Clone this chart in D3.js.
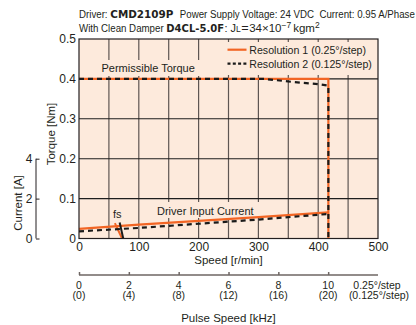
<!DOCTYPE html>
<html><head><meta charset="utf-8">
<script src="https://cdn.jsdelivr.net/npm/d3@7"></script>
<style>
html,body{margin:0;padding:0;background:#fff;}
svg{display:block;font-family:"Liberation Sans",Arial,sans-serif;}
</style></head>
<body>
<svg id="c" width="416" height="325"></svg>
<script>
// ---------- data ----------
const speedTicks = [0,100,200,300,400,500];
const torqueTicks = [0,0.1,0.2,0.3,0.4,0.5];
const currentTicks = [0,2,4];
const pulseTicks = [0,2,4,6,8,10];
const pulseLabels2 = ["(0)","(4)","(8)","(12)","(16)","(20)"];
// torque curves [speed r/min, torque Nm]
const torqueRes1 = [[0,0.4],[100,0.4],[200,0.4],[300,0.4],[417,0.4],[417,0]];
const torqueRes2 = [[0,0.4],[100,0.4],[200,0.4],[310,0.4],[360,0.392],[400,0.387],[417,0.383],[417,0]];
// driver input current [speed r/min, current A]
const currentRes1 = [[0,0.48],[100,0.7],[200,0.88],[300,1.07],[417,1.31]];
const currentRes2 = [[0,0.36],[100,0.53],[200,0.74],[300,0.95],[417,1.23]];
// fs (max starting frequency) markers [speed, current]
const fsRes1 = [[60,0.77],[72,0]];
const fsRes2 = [[68,0.8],[74,0]];
const legendLabels = ["Resolution 1 (0.25°/step)","Resolution 2 (0.125°/step)"];

// ---------- layout ----------
const L=79, R=378, T=39, B=238.5;
const bg="#fdeadc", orange="#f26524", dark="#1a1a1a", ink="#231f20";
const svg=d3.select("#c");
const x=d3.scaleLinear().domain([0,500]).range([L,R]);
const y=d3.scaleLinear().domain([0,0.5]).range([B,T]);
const yc=d3.scaleLinear().domain([0,4]).range([B,y(0.2)]);
const xp=d3.scaleLinear().domain([0,12]).range([L,R]);

// plot background
svg.append("rect").attr("x",L).attr("y",T).attr("width",R-L).attr("height",B-T).attr("fill",bg);

// grid
const g=svg.append("g");
g.selectAll("line.v").data(d3.range(50,500,50)).join("line")
 .attr("x1",d=>x(d)).attr("x2",d=>x(d)).attr("y1",T).attr("y2",B)
 .attr("stroke","#5e5653").attr("stroke-width",1.2);
g.selectAll("line.h").data([0.1,0.2,0.3,0.4]).join("line")
 .attr("x1",L).attr("x2",R).attr("y1",d=>y(d)).attr("y2",d=>y(d))
 .attr("stroke","#1e1e1e").attr("stroke-width",1.1);

// label backgrounds
svg.append("rect").attr("x",98).attr("y",60).attr("width",102).attr("height",16).attr("fill",bg);
svg.append("rect").attr("x",153).attr("y",202).attr("width",106).attr("height",16).attr("fill",bg);
svg.append("rect").attr("x",223).attr("y",42).attr("width",R-223-0.5).attr("height",33).attr("fill",bg);

// lines
const line=d3.line().x(d=>x(d[0])).y(d=>y(d[1]));
const lineC=d3.line().x(d=>x(d[0])).y(d=>yc(d[1]));
svg.append("path").attr("d",line(torqueRes1)).attr("fill","none").attr("stroke",orange).attr("stroke-width",2.2);
svg.append("path").attr("d",lineC(currentRes1)).attr("fill","none").attr("stroke",orange).attr("stroke-width",2.2);
svg.append("path").attr("d",lineC(fsRes1)).attr("fill","none").attr("stroke",orange).attr("stroke-width",2);
svg.append("path").attr("d",line(torqueRes2)).attr("fill","none").attr("stroke",dark).attr("stroke-width",2.2).attr("stroke-dasharray","5,4");
svg.append("path").attr("d",lineC(currentRes2)).attr("fill","none").attr("stroke",dark).attr("stroke-width",2.2).attr("stroke-dasharray","5,4");
svg.append("path").attr("d",lineC(fsRes2)).attr("fill","none").attr("stroke",dark).attr("stroke-width",2);

// border
svg.append("rect").attr("x",L).attr("y",T).attr("width",R-L).attr("height",B-T).attr("fill","none").attr("stroke",ink).attr("stroke-width",1.2);

// in-plot labels
function label(txt,xx,yy,size){
  return svg.append("text").attr("x",xx).attr("y",yy).attr("font-size",size).attr("fill",ink).text(txt);
}
label("Permissible Torque",101.5,72.3,"11px");
label("Driver Input Current",157,215,"11px");
label("fs",113,217.5,"11px");

// legend
const lg=svg.append("g");
lg.append("line").attr("x1",227.5).attr("x2",246.5).attr("y1",49.7).attr("y2",49.7).attr("stroke",orange).attr("stroke-width",2.2);
lg.append("line").attr("x1",227.5).attr("x2",246.5).attr("y1",63.7).attr("y2",63.7).attr("stroke",dark).attr("stroke-width",2.2).attr("stroke-dasharray","3,2.3");
lg.selectAll("text").data(legendLabels).join("text")
 .attr("x",249.3).attr("y",(d,i)=>53.8+i*14).attr("font-size","10.6px").attr("fill",ink).text(d=>d);

// speed axis
const ax=svg.append("g").attr("transform",`translate(0,${B})`)
 .call(d3.axisBottom(x).tickValues(speedTicks).tickSize(0).tickPadding(4).tickFormat(d3.format("d")));
ax.select(".domain").remove();
ax.selectAll("text").attr("font-size","12px").attr("fill",ink).attr("font-family","Liberation Sans, Arial, sans-serif").attr("dy","0.71em");
svg.append("text").attr("x",(L+R)/2).attr("y",264).attr("text-anchor","middle").attr("font-size","11.5px").attr("fill",ink).text("Speed [r/min]");

// torque axis
const ay=svg.append("g").attr("transform",`translate(${L},0)`)
 .call(d3.axisLeft(y).tickValues(torqueTicks).tickSize(0).tickPadding(3).tickFormat(d=>d===0?"0":d3.format(".1f")(d)));
ay.select(".domain").remove();
ay.selectAll("text").attr("font-size","12px").attr("fill",ink).attr("font-family","Liberation Sans, Arial, sans-serif");
svg.append("text").attr("transform",`translate(55,134) rotate(-90)`).attr("text-anchor","middle").attr("font-size","11.5px").attr("fill",ink).text("Torque [Nm]");

// current axis
const acx=36;
const ac=svg.append("g").attr("transform",`translate(${acx},0)`)
 .call(d3.axisRight(yc).tickValues(currentTicks).tickSize(3.5).tickFormat(d3.format("d")));
ac.select(".domain").attr("d",`M0,${yc(0)}V${yc(4)}`).attr("stroke",ink);
ac.selectAll(".tick line").attr("stroke",ink);
ac.selectAll("text").attr("x",-3.5).attr("text-anchor","end").attr("font-size","12px").attr("fill",ink).attr("font-family","Liberation Sans, Arial, sans-serif");
svg.append("text").attr("transform",`translate(22,203) rotate(-90)`).attr("text-anchor","middle").attr("font-size","11.5px").attr("fill",ink).text("Current [A]");

// pulse speed axis
const py=275;
const ap=svg.append("g").attr("transform",`translate(0,${py})`)
 .call(d3.axisTop(xp).tickValues(pulseTicks).tickSize(3).tickFormat(""));
ap.select(".domain").attr("d",`M${L},0H${R}`).attr("stroke","#6e6663").attr("stroke-width",1.5);
ap.selectAll(".tick line").attr("stroke","#6e6663").attr("stroke-width",1.5);
const pl=svg.append("g");
pl.selectAll("text.a").data(pulseTicks).join("text").attr("class","a")
 .attr("x",d=>xp(d)).attr("y",288.5).attr("text-anchor","middle").attr("font-size","10.5px").attr("fill",ink).text(d=>d);
pl.selectAll("text.b").data(pulseLabels2).join("text").attr("class","b")
 .attr("x",(d,i)=>xp(pulseTicks[i])).attr("y",299).attr("text-anchor","middle").attr("font-size","10.5px").attr("fill",ink).text(d=>d);
pl.append("text").attr("x",377).attr("y",288.5).attr("text-anchor","middle").attr("font-size","10.5px").attr("fill",ink).text("0.25°/step");
pl.append("text").attr("x",379).attr("y",299).attr("text-anchor","middle").attr("font-size","10.5px").attr("fill",ink).text("(0.125°/step)");
svg.append("text").attr("x",(L+R)/2).attr("y",322).attr("text-anchor","middle").attr("font-size","11.5px").attr("fill",ink).text("Pulse Speed [kHz]");

// title (condensed by horizontal scaling, since no narrow font is installed)
const bf="'DejaVu Sans',sans-serif";
function titleLine(yy, pieces){
  let cx=79;
  pieces.forEach(p=>{
    const sx=p.bold?1:(p.sx||0.845);
    const t=svg.append("text")
      .attr("transform",`translate(${cx},${yy+(p.dy||0)}) scale(${sx},1)`)
      .attr("font-size",p.size||"11.5px").attr("fill",ink)
      .attr("font-family",p.bold?bf:null).attr("font-weight",p.bold?"bold":null)
      .style("white-space","pre").text(p.t);
    cx+=t.node().getComputedTextLength()*sx+(p.gap||0);
  });
}
titleLine(18.3,[
  {t:"Driver: "},
  {t:"CMD2109P",bold:true,size:"10.4px",gap:1},
  {t:"  Power Supply Voltage: 24 VDC  Current: 0.95 A/Phase"}
]);
titleLine(32.3,[
  {t:"With Clean Damper "},
  {t:"D4CL-5.0F",bold:true,size:"10px",gap:0.5},
  {t:": J",sx:0.95},
  {t:"L",size:"8.5px",sx:1,gap:0.5},
  {t:"=",sx:1.1,gap:0.5},
  {t:"34×10",sx:1},
  {t:"−7",size:"8.5px",dy:-4.5,sx:1,gap:2},
  {t:"kgm",sx:1},
  {t:"2",size:"8.5px",dy:-4.5,sx:1}
]);
</script>
</body></html>
